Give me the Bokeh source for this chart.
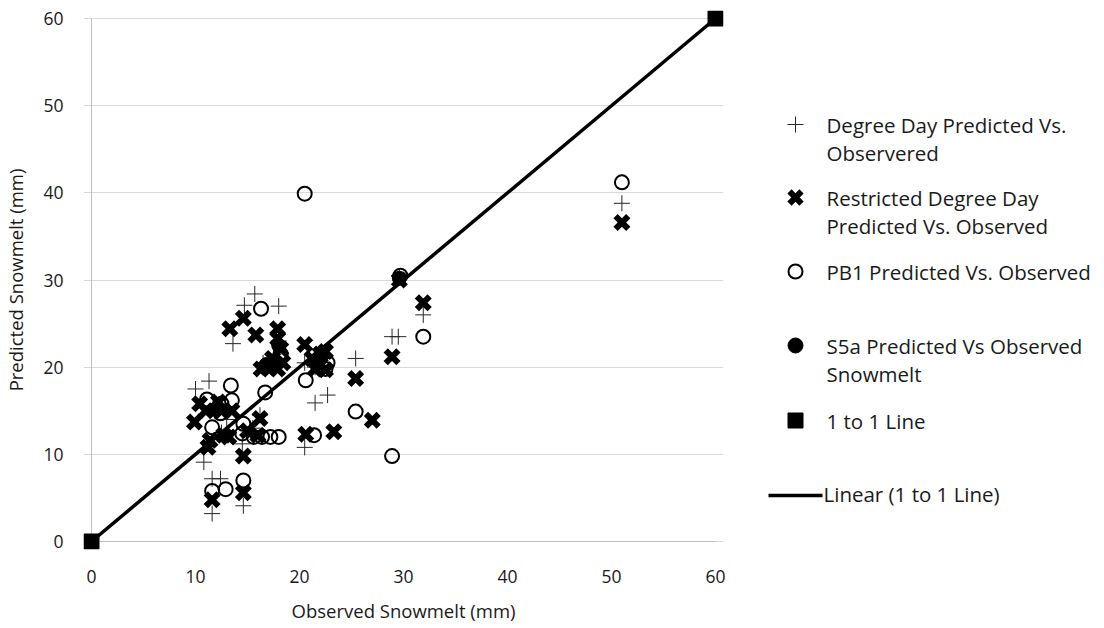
from bokeh.plotting import figure
from bokeh.layouts import row
from bokeh.models import Range1d, FixedTicker
from bokeh.core.properties import value
from bokeh.embed import file_html
from bokeh.resources import INLINE

# ---------------- data ----------------
dd_obs = [15.7, 14.7, 18.0, 13.6, 10.0, 11.3, 10.8, 11.6, 12.4, 11.6, 14.6, 14.5, 20.5, 21.5, 22.7,
          25.4, 28.9, 29.5, 31.9, 51.0, 29.6, 18.0, 16.5, 17.5, 21.5, 12.0, 13.0, 15.5, 16.2, 20.5,
          22.3, 12.5]
dd_pred = [28.4, 27.1, 27.0, 22.7, 17.5, 18.4, 9.1, 7.2, 7.2, 3.2, 4.1, 11.2, 10.8, 15.9, 16.8,
           21.0, 23.5, 23.5, 26.0, 38.8, 30.4, 23.0, 20.5, 21.5, 20.0, 15.5, 14.0, 13.0, 14.5, 20.5,
           21.0, 12.5]

rdd_obs = [13.3, 14.6, 15.8, 17.9, 17.9, 18.2, 16.3, 16.9, 17.4, 17.9, 18.4, 20.5, 21.2, 22.0,
           22.5, 21.5, 22.0, 22.5, 9.9, 10.4, 11.0, 12.2, 12.5, 13.5, 11.4, 11.2, 12.7, 13.2, 14.6,
           15.0, 16.2, 16.0, 20.6, 23.3, 25.4, 27.0, 28.9, 29.6, 31.9, 51.0, 11.6, 14.6]
rdd_pred = [24.4, 25.6, 23.7, 24.4, 23.3, 22.1, 19.8, 20.0, 21.0, 19.8, 20.5, 22.6, 21.0, 21.5,
            21.8, 19.8, 20.3, 19.7, 13.7, 15.8, 15.0, 16.0, 15.0, 15.0, 11.6, 10.8, 12.2, 12.0, 9.8,
            12.7, 14.1, 12.2, 12.3, 12.6, 18.7, 13.9, 21.2, 30.0, 27.4, 36.6, 4.8, 5.6]

pb1_obs = [16.3, 13.4, 13.5, 11.1, 12.4, 11.6, 16.7, 20.6, 22.5, 22.7, 20.5, 14.5, 14.6, 15.6,
           16.4, 17.2, 18.0, 21.4, 25.4, 28.9, 31.9, 29.7, 51.0, 11.6, 12.9, 14.6, 12.5, 17.8, 18.2]
pb1_pred = [26.7, 17.9, 16.2, 16.3, 14.7, 13.1, 17.1, 18.5, 19.8, 20.5, 39.9, 12.4, 13.5, 12.0,
            12.0, 12.0, 12.0, 12.2, 14.9, 9.8, 23.5, 30.5, 41.2, 5.8, 6.0, 7.0, 15.8, 20.5, 21.5]

s5a_obs = [29.6, 21.8, 18.0, 12.0, 16.8]
s5a_pred = [30.2, 20.5, 22.5, 15.2, 20.3]

line_obs = [0, 60]
line_pred = [0, 60]

ticks = [0, 10, 20, 30, 40, 50, 60]
x_title = "Observed Snowmelt (mm)"
y_title = "Predicted Snowmelt (mm)"

legend_lines = [
    ["Degree Day Predicted Vs.", "Observered"],
    ["Restricted Degree Day", "Predicted Vs. Observed"],
    ["PB1 Predicted Vs. Observed"],
    ["S5a Predicted Vs Observed", "Snowmelt"],
    ["1 to 1 Line"],
    ["Linear (1 to 1 Line)"],
]

FONT = "Open Sans"
TXT = "#1a1a1a"
AXC = "#bfbfbf"

# ---------------- layout numbers (pixels) ----------------
X0PX, X1PX = 91, 715       # pixel of x=0 and x=60
Y0PX, Y1PX = 541, 18       # pixel of y=0 and y=60
PAD = 8                    # extra frame room so end markers are not clipped
tmin, tmax = ticks[0], ticks[-1]
xpx = (X1PX - X0PX) / (tmax - tmin)
ypx = (Y0PX - Y1PX) / (tmax - tmin)
padx = PAD / xpx
pady = PAD / ypx
TOP = Y1PX - PAD
BOTTOM = 628 - (Y0PX + PAD)
LEFT = X0PX - PAD
MAINW = 740

# ---------------- main plot ----------------
p = figure(width=MAINW, height=628,
           x_range=Range1d(tmin - padx, tmax + padx), y_range=Range1d(tmin - pady, tmax + pady),
           output_backend="svg", toolbar_location=None,
           min_border_left=LEFT, min_border_right=MAINW - (X1PX + PAD),
           min_border_top=TOP, min_border_bottom=BOTTOM)
p.outline_line_color = None
p.background_fill_color = "white"
p.border_fill_color = "white"

for ax in (p.xaxis[0], p.yaxis[0]):
    ax.ticker = FixedTicker(ticks=ticks)
    ax.major_tick_line_color = None
    ax.minor_tick_line_color = None
    ax.axis_line_color = None
    ax.major_label_text_font = FONT
    ax.major_label_text_font_size = "17.5px"
    ax.major_label_text_color = TXT
    ax.axis_label_text_font = FONT
    ax.axis_label_text_font_size = "18.5px"
    ax.axis_label_text_font_style = "normal"
    ax.axis_label_text_color = TXT

p.xaxis.axis_label = x_title
p.yaxis.axis_label = y_title
p.xaxis.major_label_standoff = 22 - PAD
p.yaxis.major_label_standoff = 22 - PAD
p.xaxis.axis_label_standoff = 12
p.yaxis.axis_label_standoff = 12

p.xgrid.grid_line_color = None
p.ygrid.grid_line_color = "#d9d9d9"
p.ygrid.ticker = FixedTicker(ticks=ticks)
p.ygrid.bounds = (tmin, tmax)

# axis lines drawn at the data origin (inside the padded frame)
p.segment(x0=[tmin, tmin], y0=[tmin, tmin], x1=[tmax, tmin], y1=[tmin, tmax],
          line_color=AXC, line_width=1)

p.scatter(dd_obs, dd_pred, marker="cross", size=16, line_color="#262626", line_width=1)
p.scatter(rdd_obs, rdd_pred, marker="x", size=18, line_color="black", line_width=6)
p.scatter(pb1_obs, pb1_pred, marker="circle", size=14, line_color="black", line_width=2,
          fill_alpha=0)
p.scatter(s5a_obs, s5a_pred, marker="circle", size=14, line_color="black", fill_color="black")
p.line(line_obs, line_pred, line_color="black", line_width=3.5)
p.scatter(line_obs, line_pred, marker="square", size=15, line_color="black", fill_color="black")

# ---------------- legend panel (coordinates = page pixels) ----------------
lg = figure(width=1104 - MAINW, height=628,
            x_range=Range1d(MAINW, 1104), y_range=Range1d(628 - BOTTOM, TOP),
            output_backend="svg", toolbar_location=None,
            min_border_left=0, min_border_right=0, min_border_top=TOP, min_border_bottom=BOTTOM)
lg.axis.visible = False
lg.grid.visible = False
lg.outline_line_color = None

mx = 795
tx = 826
item_y = [124, 197, 271, 345, 420, 493]
line_gap = 28

lg.scatter([mx], [item_y[0]], marker="cross", size=16, line_color="#262626", line_width=1)
lg.scatter([mx], [item_y[1]], marker="x", size=17, line_color="black", line_width=6)
lg.scatter([mx], [item_y[2]], marker="circle", size=14, line_color="black", line_width=2,
           fill_alpha=0)
lg.scatter([mx], [item_y[3]], marker="circle", size=15, line_color="black", fill_color="black")
lg.scatter([mx], [item_y[4]], marker="square", size=15, line_color="black", fill_color="black")
lg.line([768, 822], [item_y[5] + 2, item_y[5] + 2], line_color="black", line_width=3.5)

txs, tys, tts = [], [], []
for i, lines in enumerate(legend_lines):
    for j, t in enumerate(lines):
        txs.append(tx if i < 5 else 823)
        tys.append(item_y[i] + j * line_gap)
        tts.append(t)
lg.text(txs, tys, text=tts, text_font=value(FONT), text_font_size="20.5px",
        text_color=TXT, text_baseline="middle", text_align="left")

layout = row(p, lg)
open("out.html", "w").write(file_html(layout, INLINE))
